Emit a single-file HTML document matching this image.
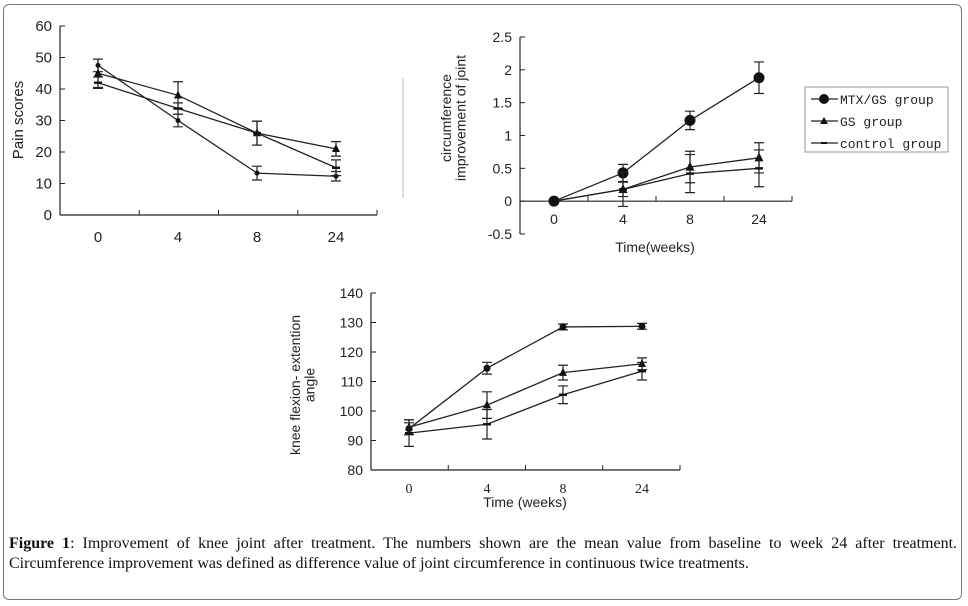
<!DOCTYPE html>
<html><head><meta charset="utf-8"><style>
body{margin:0;background:#fff;width:968px;height:606px;overflow:hidden;position:relative;font-family:"Liberation Sans",sans-serif}
#frame{position:absolute;left:3px;top:4px;width:959px;height:596px;border:1.5px solid #777;border-radius:6px;box-sizing:border-box}
#cap{position:absolute;left:9px;top:534px;width:948px;font-family:"Liberation Serif",serif;font-size:16px;line-height:20px;color:#111}
#cap .l1{text-align:justify;text-align-last:justify;white-space:nowrap}
svg{position:absolute;left:0;top:0}
</style></head><body>
<div id="frame"></div>
<svg id="s" width="968" height="606"></svg>
<div id="cap"><div class="l1" style="white-space:normal"><b>Figure 1</b>: Improvement of knee joint after treatment. The numbers shown are the mean value from baseline to week 24 after treatment.</div><div>Circumference improvement was defined as difference value of joint circumference in continuous twice treatments.</div></div>
<script>
const categories=["0","4","8","24"];
// Chart 1: pain scores
const pain_ticks=[0,10,20,30,40,50,60];
const pain_mtx=[47.5,30,13.3,12.3];
const pain_mtx_err=[2,2,2.2,1.5];
const pain_gs=[45,38,26,21];
const pain_gs_err=[4.5,4.3,3.8,2.3];
const pain_ctrl=[42,33.8,26,15];
const pain_ctrl_err=[1.8,1.8,3.8,2.5];
// Chart 2: circumference
const circ_ticks=[-0.5,0,0.5,1,1.5,2,2.5];
const circ_mtx=[0,0.43,1.23,1.88];
const circ_mtx_err=[0,0.13,0.14,0.24];
const circ_gs=[0,0.18,0.52,0.66];
const circ_gs_err=[0,0.11,0.24,0.23];
const circ_ctrl=[0,0.18,0.42,0.5];
const circ_ctrl_err=[0,0.26,0.29,0.28];
// Chart 3: knee angle
const angle_ticks=[80,90,100,110,120,130,140];
const angle_mtx=[94,114.5,128.5,128.7];
const angle_mtx_err=[2,2,1,1];
const angle_gs=[94.5,102,113,116];
const angle_gs_err=[2.5,4.5,2.5,2];
const angle_ctrl=[92.5,95.5,105.5,113.5];
const angle_ctrl_err=[4.5,5,3,3];

const S=document.getElementById('s');const NS='http://www.w3.org/2000/svg';
function mk(tag,a,parent){const e=document.createElementNS(NS,tag);for(const k in a)e.setAttribute(k,a[k]);(parent||S).appendChild(e);return e;}
function chart(cfg){
  const g=mk('g',{});
  
  
  const ymin=cfg.ticks[0],ymax=cfg.ticks[cfg.ticks.length-1];
  const Y=v=>cfg.yb-(v-ymin)/(ymax-ymin)*(cfg.yb-cfg.yt);
  const X=i=>cfg.xs[i];
  const y0=Y(cfg.xaxisAt);
  const ax=mk('path',{d:`M${cfg.x0},${cfg.yt}V${cfg.yb}M${cfg.x0},${y0}H${cfg.x1}`,stroke:'#222','stroke-width':1.2,fill:'none'},g);
  
  
  const n=categories.length,w=(cfg.x1-cfg.x0)/n;
  for(let i=0;i<=n;i++)mk('line',{x1:cfg.x0+i*w,x2:cfg.x0+i*w,y1:y0,y2:y0-5,stroke:'#222'},g);
  cfg.ticks.forEach(t=>{mk('line',{x1:cfg.x0,x2:cfg.x0+5,y1:Y(t),y2:Y(t),stroke:'#222'},g);
    const tx=mk('text',{x:cfg.x0-8,y:Y(t)+5,'text-anchor':'end','font-size':cfg.tfs||14,fill:'#222'},g);tx.textContent=t;
    
    });
  categories.forEach((c,i)=>{const tx=mk('text',{x:X(i),y:cfg.xly,'text-anchor':'middle','font-size':cfg.tfs||14,fill:'#222','font-family':cfg.xserif?'"Liberation Serif",serif':'"Liberation Sans",sans-serif'},g);tx.textContent=c;
    
    });
  cfg.series.forEach(s=>{
    const sg=mk('g',{},g);
    
    
    mk('polyline',{points:s.v.map((v,i)=>X(i)+','+Y(v)).join(' '),fill:'none',stroke:'#222','stroke-width':1.3},sg);
    s.v.forEach((v,i)=>{const e=s.e[i];if(e>0){const a=Y(v+e),b=Y(v-e),x=X(i);
      mk('path',{d:`M${x},${a}V${b}M${x-5},${a}H${x+5}M${x-5},${b}H${x+5}`,stroke:'#222','stroke-width':1.2,fill:'none'},sg);}
      const x=X(i),y=Y(v),r=s.size;
      if(s.m==='c')mk('circle',{cx:x,cy:y,r:r,fill:'#111'},sg);
      else if(s.m==='t')mk('path',{d:`M${x},${y-r*1.2}L${x+r},${y+r*0.8}L${x-r},${y+r*0.8}Z`,fill:'#111'},sg);
      else mk('rect',{x:x-4,y:y-1.2,width:8,height:2.4,fill:'#111'},sg);});
  });
  return g;
}
function rtext(x,y,lines,fs,name){lines.forEach((l,i)=>{const t=mk('text',{x:0,y:0,'text-anchor':'middle','font-size':fs,fill:'#222',transform:`translate(${x+i*fs*1.05},${y}) rotate(-90)`});t.textContent=l;
  
  });}
function txt(x,y,s,fs,name,anchor,fam){const t=mk('text',{x:x,y:y,'font-size':fs,fill:'#222','text-anchor':anchor||'middle','font-family':fam||'"Liberation Sans",sans-serif'});t.textContent=s;
  
  return t;}

chart({name:'pain-chart',ticks:pain_ticks,yt:26,yb:215,x0:60,x1:377,xaxisAt:0,xs:[98,178,257,336],xly:242,tfs:15,
  series:[{name:'pain-mtx-series',v:pain_mtx,e:pain_mtx_err,m:'c',size:2.5},{name:'pain-gs-series',v:pain_gs,e:pain_gs_err,m:'t',size:4},{name:'pain-ctrl-series',v:pain_ctrl,e:pain_ctrl_err,m:'d',size:3}]});
rtext(23,120,['Pain scores'],15,'pain-y-axis-title');

chart({name:'circumference-chart',ticks:circ_ticks,yt:37,yb:234,x0:520,x1:792,xaxisAt:0,xs:[554,623,690,759],xly:224,
  series:[{name:'circ-mtx-series',v:circ_mtx,e:circ_mtx_err,m:'c',size:5.5},{name:'circ-gs-series',v:circ_gs,e:circ_gs_err,m:'t',size:4.5},{name:'circ-ctrl-series',v:circ_ctrl,e:circ_ctrl_err,m:'d',size:3}]});
rtext(451,118,['circumference','improvement of joint'],14,'circ-y-axis-title');
txt(655,252,'Time(weeks)',14,'circ-x-axis-title');
mk('line',{x1:403,x2:403,y1:78,y2:198,stroke:'#bbb'});
// legend
const lg=mk('g',{});


mk('rect',{x:805,y:87,width:143,height:65,fill:'#fff',stroke:'#999'},lg);
[['MTX/GS group','c',99],['GS group','t',121],['control group','d',143]].forEach(([l,m,y])=>{
  mk('line',{x1:811,x2:838,y1:y,y2:y,stroke:'#222','stroke-width':1.3},lg);
  if(m==='c')mk('circle',{cx:824,cy:y,r:5,fill:'#111'},lg);
  else if(m==='t')mk('path',{d:`M824,${y-4}L828,${y+3}L820,${y+3}Z`,fill:'#111'},lg);
  else mk('rect',{x:821,y:y-1,width:6,height:2,fill:'#111'},lg);
  const t=txt(840,y+5,l,13,'legend-entry','start','"Liberation Mono",monospace');lg.appendChild(t);});

chart({name:'angle-chart',ticks:angle_ticks,yt:293,yb:470,x0:371,x1:680,xaxisAt:80,xs:[409,487,563,642],xly:493,xserif:true,
  series:[{name:'angle-mtx-series',v:angle_mtx,e:angle_mtx_err,m:'c',size:3.5},{name:'angle-gs-series',v:angle_gs,e:angle_gs_err,m:'t',size:4},{name:'angle-ctrl-series',v:angle_ctrl,e:angle_ctrl_err,m:'d',size:3}]});
rtext(300,385,['knee flexion- extention','angle'],14,'angle-y-axis-title');
txt(525,507,'Time (weeks)',14,'angle-x-axis-title');
</script>
</body></html>
